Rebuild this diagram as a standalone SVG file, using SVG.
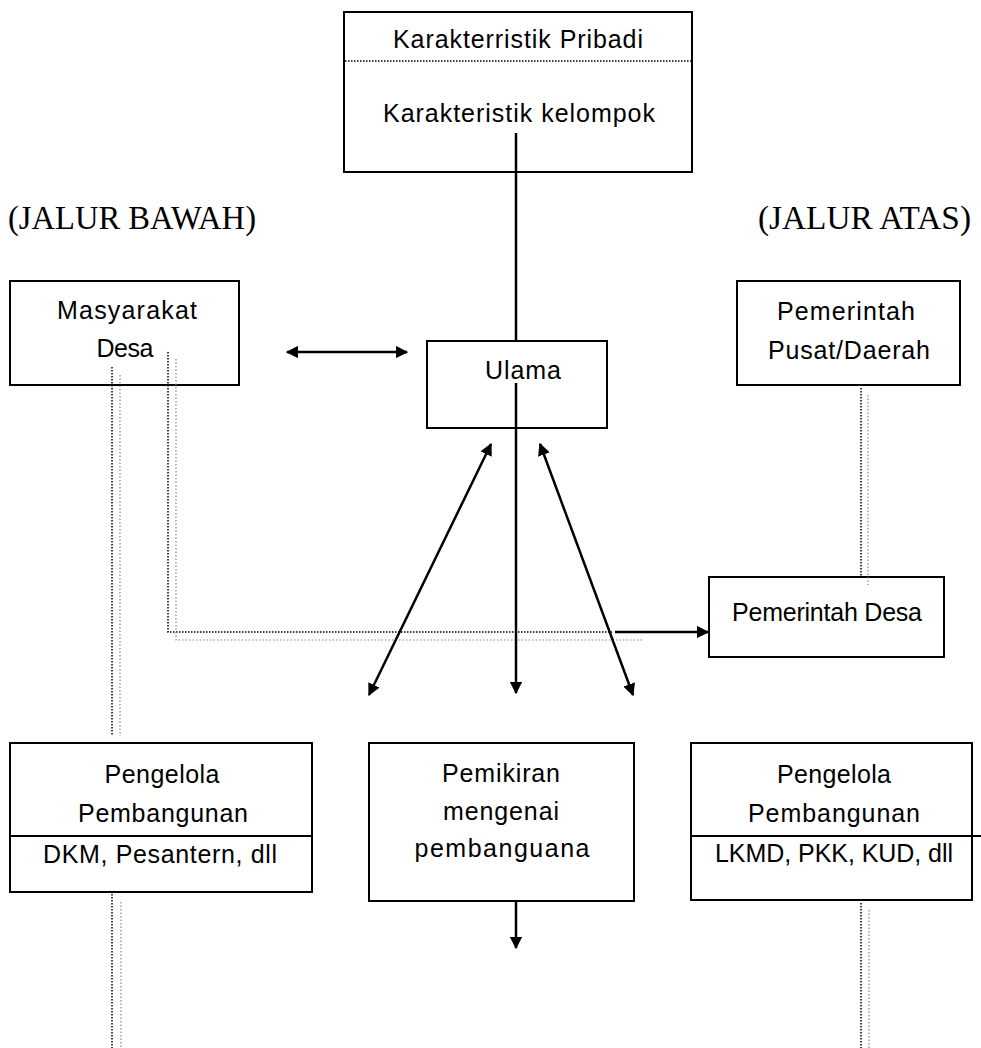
<svg xmlns="http://www.w3.org/2000/svg" width="981" height="1048" viewBox="0 0 981 1048">
<style>
.box{fill:#fff;stroke:#000;stroke-width:2}
.t{font-family:"Liberation Sans",Arial,sans-serif;font-size:25px;fill:#000;text-anchor:middle}
.h{font-family:"Liberation Serif","Times New Roman",serif;font-size:34px;fill:#000}
.ln{stroke:#000;stroke-width:2.5;fill:none}
.dk{stroke:#000;stroke-width:1.5;stroke-dasharray:1.5 1.5;fill:none}
.lt{stroke:#888;stroke-width:1.2;stroke-dasharray:1.5 2;fill:none}
.sep{stroke:#000;stroke-width:2}
</style>
<defs>
<marker id="ah" viewBox="0 0 10 10" refX="9" refY="5" markerWidth="5" markerHeight="5" orient="auto-start-reverse" markerUnits="strokeWidth">
<path d="M0,0 L10,5 L0,10 z" fill="#000"/>
</marker>
</defs>
<rect width="981" height="1048" fill="#fff"/>

<g id="labels">
<text class="h" x="8" y="229" textLength="248" lengthAdjust="spacingAndGlyphs">(JALUR BAWAH)</text>
<text class="h" x="758" y="229" font-size="33" textLength="213" lengthAdjust="spacingAndGlyphs">(JALUR ATAS)</text>
</g>

<g id="karakteristik">
<rect class="box" x="344" y="12" width="348" height="160"/>
<line x1="345" y1="61" x2="691" y2="61" stroke="#000" stroke-width="1.5" stroke-dasharray="1.5 1.5"/>
<text class="t" x="518" y="48" textLength="250">Karakterristik Pribadi</text>
<text class="t" x="519" y="122" textLength="272">Karakteristik kelompok</text>
</g>

<g id="masyarakat">
<rect class="box" x="10" y="281" width="229" height="104"/>
<text class="t" x="127" y="319" textLength="140">Masyarakat</text>
<text class="t" x="125" y="357" textLength="57">Desa</text>
</g>

<g id="ulama">
<rect class="box" x="427" y="341" width="180" height="87"/>
<text class="t" x="523" y="379" textLength="76">Ulama</text>
</g>

<g id="pemerintah-pusat">
<rect class="box" x="737" y="281" width="223" height="104"/>
<text class="t" x="846" y="320" textLength="138">Pemerintah</text>
<text class="t" x="849" y="359" textLength="162">Pusat/Daerah</text>
</g>

<g id="pemerintah-desa">
<rect class="box" x="709" y="577" width="235" height="80"/>
<text class="t" x="827" y="621" textLength="190">Pemerintah Desa</text>
</g>

<g id="pengelola-kiri">
<rect class="box" x="10" y="743" width="302" height="149"/>
<line class="sep" x1="10" y1="836" x2="312" y2="836"/>
<text class="t" x="162" y="783" textLength="115">Pengelola</text>
<text class="t" x="163" y="822" textLength="170">Pembangunan</text>
<text class="t" x="160" y="863" textLength="234">DKM, Pesantern, dll</text>
</g>

<g id="pemikiran">
<rect class="box" x="369" y="743" width="265" height="158"/>
<text class="t" x="501" y="782" textLength="118">Pemikiran</text>
<text class="t" x="501" y="820" textLength="116">mengenai</text>
<text class="t" x="502" y="857" textLength="175">pembanguana</text>
</g>

<g id="pengelola-kanan">
<rect class="box" x="691" y="743" width="281" height="157"/>
<line class="sep" x1="691" y1="836" x2="981" y2="836"/>
<text class="t" x="834" y="783" textLength="114">Pengelola</text>
<text class="t" x="834" y="822" textLength="172">Pembangunan</text>
<text class="t" x="834" y="862" textLength="238">LKMD, PKK, KUD, dll</text>
</g>

<g id="connectors">
<line class="dk" x1="112" y1="367" x2="112" y2="736"/>
<line class="lt" x1="120" y1="375" x2="120" y2="736"/>
<line class="dk" x1="112" y1="894" x2="112" y2="1048"/>
<line class="lt" x1="121" y1="902" x2="121" y2="1048"/>
<polyline class="dk" points="168,352 168,632 612,632"/>
<polyline class="lt" points="176,359 176,640 643,640"/>
<line class="dk" x1="861" y1="388" x2="861" y2="578"/>
<line class="lt" x1="868" y1="395" x2="868" y2="585"/>
<line class="dk" x1="861" y1="903" x2="861" y2="1048"/>
<line class="lt" x1="869" y1="910" x2="869" y2="1048"/>
<line class="ln" x1="516" y1="133" x2="516" y2="341"/>
<line class="ln" x1="516" y1="383" x2="516" y2="693" marker-end="url(#ah)"/>
<line class="ln" x1="287" y1="352" x2="407" y2="352" marker-start="url(#ah)" marker-end="url(#ah)"/>
<line class="ln" x1="491" y1="444" x2="369" y2="695" marker-start="url(#ah)" marker-end="url(#ah)"/>
<line class="ln" x1="540" y1="444" x2="633" y2="695" marker-start="url(#ah)" marker-end="url(#ah)"/>
<line class="ln" x1="615" y1="632" x2="708" y2="632" marker-end="url(#ah)"/>
<line class="ln" x1="516" y1="901" x2="516" y2="948" marker-end="url(#ah)"/>
</g>
</svg>
